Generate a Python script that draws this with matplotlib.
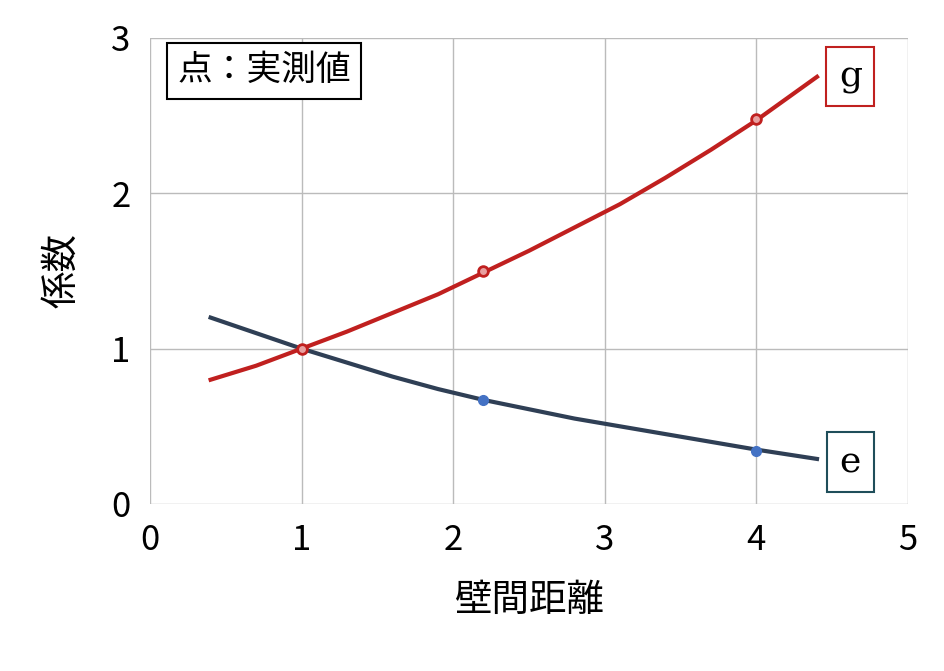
import matplotlib
matplotlib.use("Agg")
import matplotlib.pyplot as plt

plt.rcParams['font.family'] = ['Noto Sans CJK JP', 'DejaVu Sans']

curve_x = [0.4, 0.7, 1.0, 1.3, 1.6, 1.9, 2.2, 2.5, 2.8, 3.1, 3.4, 3.7, 4.0, 4.2, 4.4]
g_curve = [0.80, 0.89, 1.0, 1.11, 1.23, 1.35, 1.49, 1.63, 1.78, 1.93, 2.10, 2.28, 2.47, 2.61, 2.75]
e_curve = [1.20, 1.10, 1.0, 0.91, 0.82, 0.74, 0.67, 0.61, 0.55, 0.50, 0.45, 0.40, 0.35, 0.32, 0.29]
meas_x = [1.0, 2.2, 4.0]
g_meas = [1.0, 1.5, 2.48]
e_meas = [1.0, 0.67, 0.34]

red = '#C0201F'
navy = '#2F3F55'
blue = '#4472C4'

fig = plt.figure(figsize=(9.45, 6.71), dpi=100)
ax = fig.add_axes([0.1587, 0.2489, 0.8021, 0.6945])
ax.plot(curve_x, e_curve, color=navy, lw=3, zorder=3)
ax.plot(curve_x, g_curve, color=red, lw=3, zorder=3)
ax.plot(meas_x, e_meas, 'o', color=blue, ms=7, zorder=4)
ax.plot(meas_x, g_meas, 'o', mfc='#E8A0A0', mec=red, mew=2, ms=7, zorder=5)

ax.set_xlim(0, 5)
ax.set_ylim(0, 3)
ax.set_xticks(range(6))
ax.set_yticks(range(4))
ax.grid(True, color='#BBBBBB', lw=1)
for s in ax.spines.values():
    s.set_visible(False)
ax.tick_params(length=0, labelsize=25, pad=14)
ax.set_xlabel('壁間距離', fontsize=27, labelpad=16)
ax.set_ylabel('係数', fontsize=27, labelpad=22)

ax.text(0.18, 2.79, '点：実測値', fontsize=25, va='center', ha='left',
        bbox=dict(boxstyle='square,pad=0.3', fc='white', ec='black', lw=1.5), zorder=6)
ax.text(4.62, 2.75, 'g', fontsize=26, va='center', ha='center', family='DejaVu Serif',
        bbox=dict(boxstyle='square,pad=0.35', fc='white', ec=red, lw=1.5), zorder=6)
ax.text(4.62, 0.27, 'e', fontsize=26, va='center', ha='center', family='DejaVu Serif',
        bbox=dict(boxstyle='square,pad=0.35', fc='white', ec='#1F4E5A', lw=1.5), zorder=6)

fig.savefig('out.png', dpi=100)
